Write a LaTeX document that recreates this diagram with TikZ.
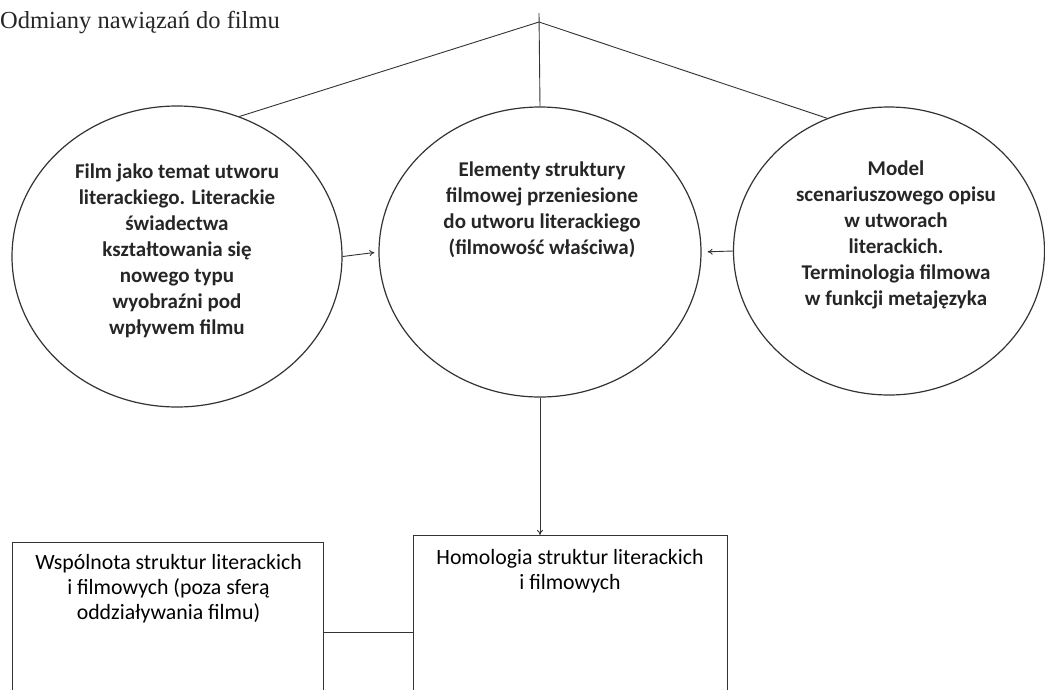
\documentclass[tikz,border=0pt]{standalone}
\usepackage{fontspec}
\newfontfamily\calfont{Carlito}
\newfontfamily\titlefont{Liberation Serif}
\usetikzlibrary{shapes.geometric,arrows.meta}
\begin{document}
\begin{tikzpicture}[x=1pt,y=-1pt,
  circ/.style={draw=black!80, line width=1.2pt, ellipse, inner sep=0pt},
  ctext/.style={font=\calfont\bfseries\fontsize{21}{26}\selectfont, align=center, text=black!85, inner sep=0pt},
  btext/.style={font=\calfont\fontsize{21.8}{25}\selectfont, align=center, text=black, inner sep=0pt},
  boxstyle/.style={draw=black!80, line width=1pt, rectangle, inner sep=0pt, anchor=north west},
  conn/.style={draw=black!80, line width=0.9pt},
  arr/.style={conn, -{To[length=5pt,width=6pt]}},
  titlestyle/.style={font=\titlefont\fontsize{24.5}{28}\selectfont, text=black!85, anchor=base west, inner sep=0pt}]
\useasboundingbox (0,0) rectangle (1045,689);
\clip (0,0) rectangle (1045,689);
\fill[white] (0,0) rectangle (1045,689);

\node[titlestyle] (title) at (0,28) {Odmiany nawiązań do filmu};

\node[circ, minimum width=330pt, minimum height=301pt] (L) at (177,256.5) {};
\node[circ, minimum width=322pt, minimum height=290pt] (M) at (540,252) {};
\node[circ, minimum width=311pt, minimum height=288pt] (R) at (889,251) {};

\node[ctext] (Lt) at (177,251) {Film jako temat utworu\\literackiego. Literackie\\świadectwa\\kształtowania się\\nowego typu\\wyobraźni pod\\wpływem filmu};
\node[ctext] (Mt) at (542,210) {Elementy struktury\\filmowej przeniesione\\do utworu literackiego\\(filmowość właściwa)};
\node[ctext] (Rt) at (896,235) {Model\\scenariuszowego opisu\\w utworach\\literackich.\\Terminologia filmowa\\w funkcji metajęzyka};

\coordinate (apex) at (539,22);
\coordinate (top) at (539,13);
\draw[conn] (top) -- (M.north);
\draw[conn] (apex) -- (L.66);
\draw[conn] (apex) -- (R.115);

\draw[arr, shorten >=4pt] (L.east) -- (M.west);
\draw[arr, shorten >=6pt] (R.west) -- (M.east);

\node[boxstyle, minimum width=311pt, minimum height=160pt] (WB) at (12,542) {};
\node[boxstyle, minimum width=314pt, minimum height=170pt] (HB) at (413,535) {};

\node[btext] (WBt) at (168.5,589) {Wspólnota struktur literackich\\i filmowych (poza sferą\\oddziaływania filmu)};
\node[btext] (HBt) at (570,571) {Homologia struktur literackich\\i filmowych};

\draw[arr] (M.south) -- (M.south |- HB.north);
\coordinate (mid) at (368,632);
\draw[conn] (WB.east |- mid) -- (HB.west |- mid);
\end{tikzpicture}
\end{document}
